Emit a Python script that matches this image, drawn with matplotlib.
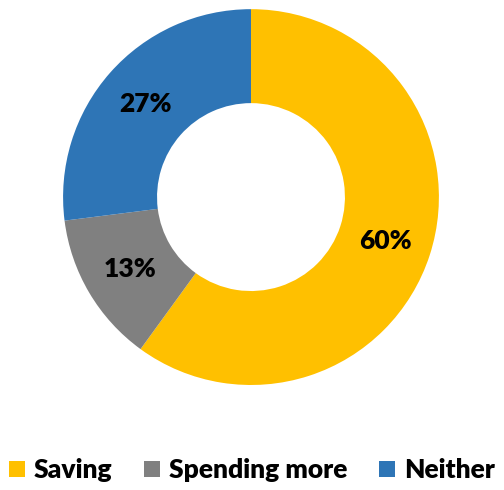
import matplotlib.pyplot as plt

labels = ['Saving', 'Spending more', 'Neither']
values = [60, 13, 27]
colors = ['#FFC000', '#808080', '#2E75B6']

plt.rcParams['font.family'] = ['Lato', 'DejaVu Sans']

fig = plt.figure(figsize=(5.04, 4.9), dpi=100)
ax = fig.add_axes([0.125, 0.2143, 0.746, 0.767])

wedges, texts, autotexts = ax.pie(values, colors=colors, startangle=90, counterclock=False,
                                  autopct='%1.0f%%', pctdistance=0.75,
                                  wedgeprops=dict(width=0.5, linewidth=0),
                                  textprops=dict(fontsize=19, fontweight='heavy', color='black'))
ax.set_xlim(-1, 1)
ax.set_ylim(-1, 1)
ax.set_aspect('equal')

fig.legend(wedges, labels, loc='center', bbox_to_anchor=(0.5, 0.04), ncol=3, frameon=False,
           handlelength=0.6, handleheight=0.6, handletextpad=0.35, columnspacing=1.2,
           prop=dict(size=19, weight='heavy'))

fig.savefig('out.png', dpi=100)
